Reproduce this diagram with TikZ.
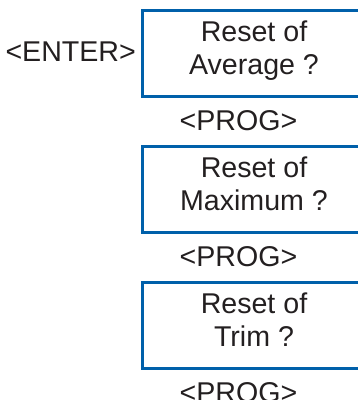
\documentclass[tikz,border=0pt]{standalone}
\usepackage{fontspec}
\setmainfont{Liberation Sans}
\usetikzlibrary{calc}
\definecolor{frameblue}{RGB}{0,96,170}
\definecolor{ink}{RGB}{35,31,32}
\begin{document}
\begin{tikzpicture}[x=1bp,y=-1bp,
  txt/.style={inner sep=0pt,outer sep=0pt,text=ink,
    font=\fontsize{28.7}{33.8}\selectfont},
  panel/.style={draw=frameblue,line width=3bp,inner sep=0pt,
    minimum width=222bp,minimum height=86.5bp}]
\useasboundingbox (0,0) rectangle (358,400);
\clip (0,0) rectangle (358,400);

% key that opens the reset menu
\node[txt,anchor=base west] (enter) at (5.5,61) {<ENTER>};

% three menu panels, one below the other
\foreach \i/\name/\word in {0/avg/Average ?,1/max/Maximum ?,2/trim/Trim ?}{
  \node[panel] (\name) at (254,53.25+136*\i) {};
  \node[txt,anchor=base] (\name-l1) at ($(\name.north)+(0,32.6)$) {Reset of};
  \node[txt,anchor=base] (\name-l2) at ($(\name.north)+(0,66.3)$) {\word};
  \node[txt,anchor=base] (\name-key) at ($(\name.south)+(-15.5,32)$) {<PROG>};
}
\end{tikzpicture}
\end{document}
